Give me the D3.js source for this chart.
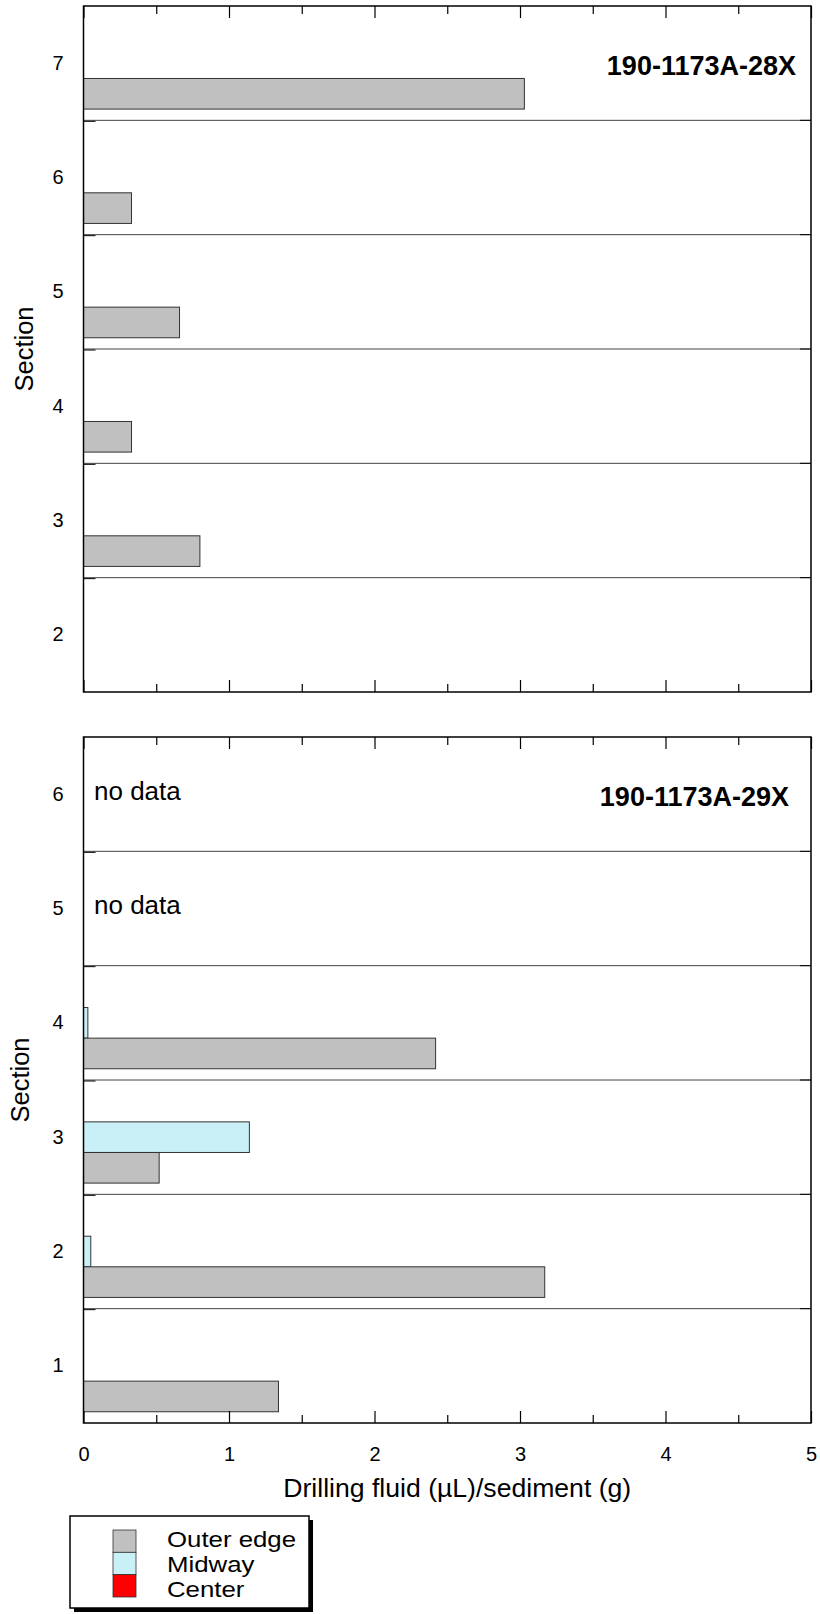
<!DOCTYPE html>
<html>
<head>
<meta charset="utf-8">
<script src="https://cdn.jsdelivr.net/npm/d3@7"></script>
<style>
  html, body { margin: 0; padding: 0; background: #fff; }
  svg { display: block; font-family: "Liberation Sans", Arial, Helvetica, sans-serif; }
</style>
</head>
<body>
<svg id="chart" width="820" height="1614"></svg>
<script>
// Drilling fluid contamination per section, cores 190-1173A-28X and -29X
const positions = ["Center", "Midway", "Outer edge"];
const positionColors = ["#ff0000", "#c8f0f6", "#c0c0c0"];

const core28Title = "190-1173A-28X";
const core28Sections = [7, 6, 5, 4, 3, 2];
const core28Outer = [3.03, 0.33, 0.66, 0.33, 0.80, null];
const core28Midway = [null, null, null, null, null, null];
const core28Center = [null, null, null, null, null, null];
const core28NoData = [];

const core29Title = "190-1173A-29X";
const core29Sections = [6, 5, 4, 3, 2, 1];
const core29Outer = [null, null, 2.42, 0.52, 3.17, 1.34];
const core29Midway = [null, null, 0.03, 1.14, 0.05, null];
const core29Center = [null, null, null, null, null, null];
const core29NoData = [6, 5];

const xTickLabels = ["0", "1", "2", "3", "4", "5"];
const xTitle = "Drilling fluid (\u00b5L)/sediment (g)";
const yTitle = "Section";

const svg = d3.select("#chart");
const left = 83.5, right = 811;
const x = d3.scaleLinear().domain([0, 5]).range([left, right]);

const panels = [
  { title: core28Title, sections: core28Sections, outer: core28Outer, midway: core28Midway,
    center: core28Center, noData: core28NoData, top: 6, bottom: 692, titleRight: 796, yTitleX: 33 },
  { title: core29Title, sections: core29Sections, outer: core29Outer, midway: core29Midway,
    center: core29Center, noData: core29NoData, top: 737, bottom: 1423, titleRight: 789, yTitleX: 29 }
];

panels.forEach((p, pi) => {
  const g = svg.append("g");
  const y = d3.scaleBand().domain(p.sections).range([p.top, p.bottom]);
  const inner = d3.scaleBand().domain(positions).range([0, y.bandwidth()])
    .paddingInner(0).paddingOuter(0.367);

  // bars: one per position with a value
  const rows = [];
  p.sections.forEach((s, i) => {
    [p.center[i], p.midway[i], p.outer[i]].forEach((v, k) => {
      if (v != null) rows.push({ section: s, pos: positions[k], color: positionColors[k], value: v });
    });
  });
  g.selectAll("rect.bar").data(rows).join("rect")
    .attr("class", "bar")
    .attr("x", x(0))
    .attr("y", d => y(d.section) + inner(d.pos))
    .attr("width", d => x(d.value) - x(0))
    .attr("height", inner.bandwidth())
    .attr("fill", d => d.color)
    .attr("stroke", "#333")
    .attr("stroke-width", 1);

  // section separators
  const bounds = p.sections.slice(1).map(s => y(s));
  g.selectAll("line.sep").data(bounds).join("line")
    .attr("class", "sep")
    .attr("x1", left).attr("x2", right)
    .attr("y1", d => d).attr("y2", d => d)
    .attr("stroke", "#444").attr("stroke-width", 1);
  // short inward ticks at the separators, both sides
  g.selectAll("line.ytl").data(bounds).join("line")
    .attr("x1", left).attr("x2", left + 12)
    .attr("y1", d => d + 1).attr("y2", d => d + 1)
    .attr("stroke", "#000").attr("stroke-width", 1);
  g.selectAll("line.ytr").data(bounds).join("line")
    .attr("x1", right - 11).attr("x2", right)
    .attr("y1", d => d).attr("y2", d => d)
    .attr("stroke", "#000").attr("stroke-width", 1);

  // frame
  g.append("rect")
    .attr("x", left).attr("y", p.top)
    .attr("width", right - left).attr("height", p.bottom - p.top)
    .attr("fill", "none").attr("stroke", "#000").attr("stroke-width", 1.5);

  // inward ticks on top and bottom edges
  const majors = d3.range(0, 6, 1), minors = d3.range(0.5, 5, 1);
  const edges = [
    { axis: d3.axisBottom, yPos: p.top },
    { axis: d3.axisTop, yPos: p.bottom }
  ];
  edges.forEach(e => {
    const gm = g.append("g").attr("transform", `translate(0,${e.yPos})`)
      .call(e.axis(x).tickValues(majors).tickSize(12).tickFormat(""));
    const gn = g.append("g").attr("transform", `translate(0,${e.yPos})`)
      .call(e.axis(x).tickValues(minors).tickSize(8).tickFormat(""));
    [gm, gn].forEach(a => {
      a.select(".domain").remove();
      a.selectAll(".tick line").attr("stroke", "#000").attr("stroke-width", 1.2);
    });
  });

  // section labels
  const ya = g.append("g").attr("transform", `translate(${left},0)`)
    .call(d3.axisLeft(y).tickSize(0).tickPadding(20));
  ya.select(".domain").remove();
  ya.selectAll(".tick text").attr("font-size", 20).attr("fill", "#000")
    .attr("font-family", "Liberation Sans, Arial, sans-serif");

  // "no data" notes
  g.selectAll("text.nd").data(p.noData).join("text")
    .attr("x", 94)
    .attr("y", d => y(d) + 63)
    .attr("font-size", 26)
    .text("no data");

  // core title
  g.append("text")
    .attr("x", p.titleRight).attr("y", p.top + 69)
    .attr("text-anchor", "end")
    .attr("font-size", 27).attr("font-weight", "bold")
    .text(p.title);

  // y title
  g.append("text")
    .attr("transform", `translate(${p.yTitleX},${(p.top + p.bottom) / 2}) rotate(-90)`)
    .attr("text-anchor", "middle")
    .attr("font-size", 25.5)
    .text(yTitle);

  // tick labels on the lowest panel
  if (pi === panels.length - 1) {
    const xa = g.append("g").attr("transform", `translate(0,${p.bottom})`)
      .call(d3.axisBottom(x).tickValues(majors).tickSize(0).tickPadding(24)
        .tickFormat((d, i) => xTickLabels[i]));
    xa.select(".domain").remove();
    xa.selectAll(".tick text").attr("font-size", 20).attr("fill", "#000")
      .attr("font-family", "Liberation Sans, Arial, sans-serif");

    g.append("text")
      .attr("x", (left + right) / 2 + 10).attr("y", 1497)
      .attr("text-anchor", "middle")
      .attr("font-size", 26.6)
      .text(xTitle);
  }
});

// legend
const legend = svg.append("g");
const lx = 70, ly = 1516, lw = 239, lh = 92;
legend.append("rect").attr("x", lx + 4).attr("y", ly + 4).attr("width", lw).attr("height", lh).attr("fill", "#000");
legend.append("rect").attr("x", lx).attr("y", ly).attr("width", lw).attr("height", lh)
  .attr("fill", "#fff").attr("stroke", "#000").attr("stroke-width", 1.5);
const legendOrder = ["Outer edge", "Midway", "Center"];
const ly0 = d3.scaleBand().domain(legendOrder).range([1530, 1597]);
legend.selectAll("rect.sw").data(legendOrder).join("rect")
  .attr("class", "sw")
  .attr("x", 113).attr("y", d => ly0(d))
  .attr("width", 23).attr("height", ly0.bandwidth())
  .attr("fill", d => positionColors[positions.indexOf(d)])
  .attr("stroke", "#333").attr("stroke-width", 0.8);
// legend labels are set tight, in a wide face
legend.selectAll("text.lt").data(legendOrder).join("text")
  .attr("transform", (d, i) => `translate(167,${1547 + i * 25}) scale(1.2,1)`)
  .attr("font-size", 21.5)
  .text(d => d);
</script>
</body>
</html>
